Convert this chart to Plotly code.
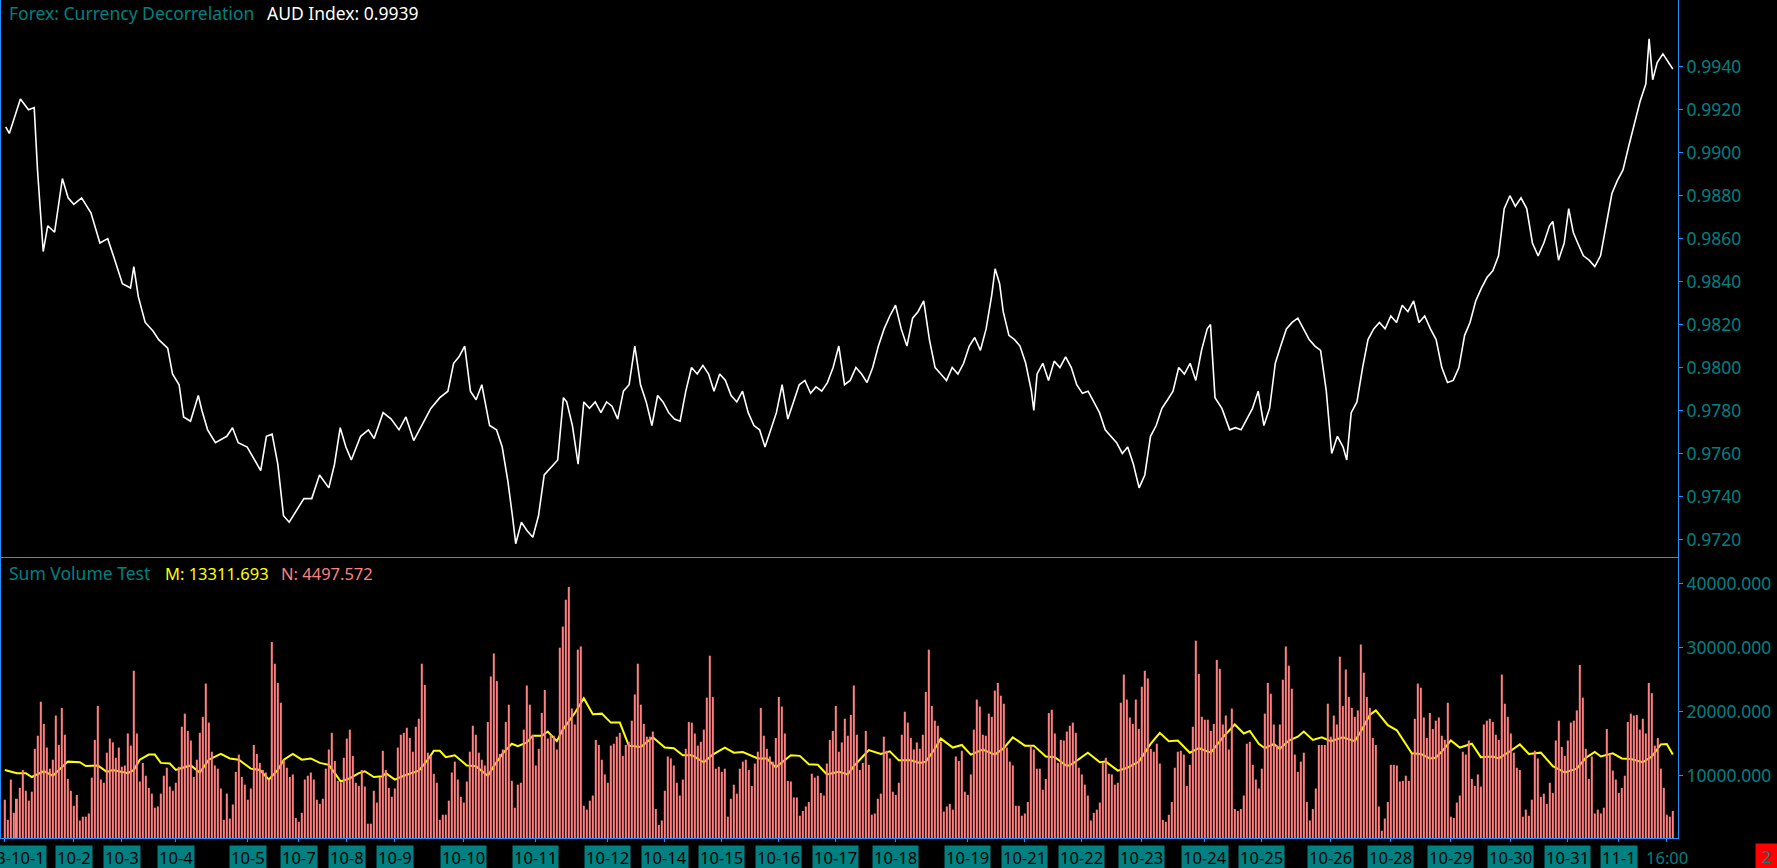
import plotly.graph_objects as go

BLUE = "#1E90FF"
TEAL = "#008080"
SALMON = "#FF8080"
YELLOW = "#FFFF00"
FONT = "Noto Sans"

# AUD index, sampled at bar positions
price_bar = [
    0.3, 1.5, 5.2, 7.9, 9.8, 10.9, 12.8, 14.3, 16.6, 19.2,
    21.1, 23.0, 25.6, 28.7, 31.7, 34.3, 36.2, 39.2, 41.9, 43.0,
    44.5, 46.8, 49.4, 51.3, 54.3, 55.9, 58.1, 59.6, 61.9, 64.5,
    65.7, 67.6, 70.2, 74.0, 75.9, 77.8, 80.8, 83.4, 85.3, 87.2,
    89.1, 91.0, 92.9, 94.8, 97.4, 99.7, 102.3, 104.9, 108.0, 109.9,
    111.8, 113.7, 115.5, 118.6, 121.2, 123.1, 126.1, 128.8, 131.4, 133.7,
    136.3, 139.0, 142.0, 145.0, 147.7, 149.6, 151.4, 153.3, 155.2, 157.1,
    159.0, 161.6, 163.9, 165.8, 167.7, 169.2, 170.3, 172.2, 174.1, 176.0,
    177.9, 179.8, 182.8, 184.3, 186.2, 187.3, 189.2, 191.1, 193.0, 194.9,
    196.8, 198.7, 200.6, 202.4, 204.3, 206.2, 208.1, 210.0, 211.9, 213.8,
    215.7, 217.6, 219.4, 221.3, 223.2, 225.1, 227.0, 228.9, 230.8, 232.7,
    234.6, 236.4, 238.3, 240.2, 242.1, 244.0, 245.9, 247.8, 249.7, 251.6,
    253.4, 255.3, 257.2, 259.1, 261.0, 262.9, 264.8, 266.7, 268.6, 270.4,
    272.3, 274.2, 276.1, 278.0, 279.9, 281.8, 283.7, 285.6, 287.4, 289.3,
    291.2, 293.1, 295.0, 296.9, 298.8, 300.7, 302.6, 304.4, 306.3, 308.2,
    310.1, 312.0, 313.9, 315.8, 317.7, 319.6, 321.5, 323.3, 325.2, 327.1,
    329.0, 330.1, 331.6, 332.8, 334.7, 336.6, 338.4, 340.3, 342.2, 343.0,
    344.1, 346.0, 347.9, 349.8, 351.7, 353.6, 355.5, 357.3, 359.2, 361.1,
    363.0, 364.9, 366.8, 368.7, 370.6, 372.5, 374.3, 376.2, 378.1, 380.0,
    381.9, 383.8, 385.7, 387.6, 389.4, 391.3, 393.2, 395.1, 397.0, 398.9,
    400.8, 401.9, 403.4, 405.7, 408.3, 410.2, 412.1, 414.0, 415.9, 417.8,
    419.7, 421.6, 423.5, 425.3, 427.2, 429.1, 431.0, 432.9, 434.8, 436.7,
    438.6, 440.5, 442.3, 444.2, 446.1, 447.3, 448.8, 450.7, 452.6, 454.4,
    456.3, 458.2, 460.1, 462.0, 463.9, 465.8, 467.7, 469.6, 471.4, 473.3,
    475.2, 477.1, 479.0, 480.9, 482.8, 484.7, 486.6, 488.4, 490.3, 492.2,
    494.1, 496.0, 497.9, 499.8, 501.7, 503.5, 505.4, 507.3, 509.2, 511.1,
    513.0, 514.9, 516.0, 517.9, 519.8, 521.3, 522.8, 524.3, 526.2, 528.1,
    530.0, 531.9, 533.8, 535.7, 537.5, 539.4, 541.3, 543.2, 545.1, 547.0,
    548.1, 549.3, 550.8, 552.7, 554.5, 556.0,
]
price_val = [
    0.9912, 0.9909, 0.9925, 0.9920, 0.9921, 0.9892, 0.9854, 0.9866, 0.9863, 0.9888,
    0.9879, 0.9876, 0.9879, 0.9872, 0.9858, 0.9860, 0.9852, 0.9839, 0.9837, 0.9847,
    0.9833, 0.9821, 0.9817, 0.9813, 0.9809, 0.9797, 0.9792, 0.9777, 0.9775, 0.9787,
    0.9780, 0.9771, 0.9765, 0.9768, 0.9772, 0.9765, 0.9763, 0.9757, 0.9752, 0.9768,
    0.9769, 0.9755, 0.9731, 0.9728, 0.9734, 0.9739, 0.9739, 0.9750, 0.9744, 0.9755,
    0.9772, 0.9763, 0.9757, 0.9768, 0.9771, 0.9767, 0.9779, 0.9776, 0.9771, 0.9777,
    0.9766, 0.9773, 0.9781, 0.9786, 0.9789, 0.9802, 0.9805, 0.9810, 0.9789, 0.9785,
    0.9792, 0.9773, 0.9771, 0.9763, 0.9747, 0.9731, 0.9718, 0.9728, 0.9724, 0.9721,
    0.9731, 0.9750, 0.9755, 0.9757, 0.9786, 0.9784, 0.9773, 0.9755, 0.9784, 0.9781,
    0.9784, 0.9779, 0.9784, 0.9782, 0.9776, 0.9789, 0.9792, 0.9810, 0.9792, 0.9784,
    0.9773, 0.9787, 0.9784, 0.9779, 0.9776, 0.9775, 0.9789, 0.9800, 0.9797, 0.9801,
    0.9797, 0.9789, 0.9797, 0.9794, 0.9787, 0.9784, 0.9789, 0.9779, 0.9773, 0.9771,
    0.9763, 0.9771, 0.9779, 0.9792, 0.9776, 0.9784, 0.9792, 0.9794, 0.9788, 0.9791,
    0.9789, 0.9793, 0.9800, 0.9810, 0.9792, 0.9794, 0.9800, 0.9797, 0.9793, 0.9800,
    0.9810, 0.9818, 0.9824, 0.9829, 0.9818, 0.9810, 0.9823, 0.9826, 0.9831, 0.9813,
    0.9800, 0.9797, 0.9794, 0.9800, 0.9797, 0.9802, 0.9810, 0.9814, 0.9808, 0.9818,
    0.9834, 0.9846, 0.9839, 0.9826, 0.9815, 0.9813, 0.9810, 0.9802, 0.9789, 0.9780,
    0.9797, 0.9802, 0.9794, 0.9803, 0.9800, 0.9805, 0.9800, 0.9792, 0.9788, 0.9789,
    0.9784, 0.9779, 0.9771, 0.9768, 0.9765, 0.9760, 0.9763, 0.9755, 0.9744, 0.9750,
    0.9768, 0.9773, 0.9781, 0.9785, 0.9789, 0.9800, 0.9797, 0.9802, 0.9794, 0.9808,
    0.9818, 0.9820, 0.9786, 0.9781, 0.9771, 0.9772, 0.9771, 0.9776, 0.9781, 0.9789,
    0.9773, 0.9781, 0.9802, 0.9810, 0.9818, 0.9821, 0.9823, 0.9818, 0.9813, 0.9810,
    0.9808, 0.9789, 0.9760, 0.9768, 0.9763, 0.9757, 0.9779, 0.9784, 0.9800, 0.9813,
    0.9818, 0.9821, 0.9818, 0.9824, 0.9821, 0.9829, 0.9826, 0.9831, 0.9821, 0.9824,
    0.9818, 0.9813, 0.9800, 0.9793, 0.9794, 0.9800, 0.9815, 0.9821, 0.9831, 0.9837,
    0.9842, 0.9845, 0.9852, 0.9874, 0.9880, 0.9875, 0.9879, 0.9874, 0.9858, 0.9852,
    0.9858, 0.9866, 0.9868, 0.9850, 0.9858, 0.9874, 0.9863, 0.9858, 0.9852, 0.9850,
    0.9847, 0.9852, 0.9866, 0.9881, 0.9887, 0.9892, 0.9903, 0.9914, 0.9924, 0.9932,
    0.9953, 0.9934, 0.9942, 0.9946, 0.9942, 0.9939,
]

# Sum volume, one value per bar
volume = [
    6250, 3100, 9400, 4200, 6400, 8100, 10900, 7650, 6100, 7500,
    14200, 16250, 21560, 18100, 14400, 11100, 12500, 19400, 14800, 20600,
    16400, 9500, 7650, 5300, 7000, 3000, 3600, 3600, 4100, 9700,
    15600, 20900, 9400, 8900, 13600, 15800, 15200, 12800, 14400, 11400,
    11600, 16600, 14700, 26400, 16600, 9100, 12000, 10000, 8100, 7200,
    5000, 5200, 7200, 10000, 11250, 8300, 7650, 8900, 11400, 17650,
    19700, 17000, 15500, 9800, 12500, 16700, 19200, 24400, 18300, 13750,
    11600, 11100, 8000, 3100, 7200, 3300, 5500, 10600, 13300, 9800,
    8600, 6250, 8000, 14800, 13400, 12000, 10900, 10500, 9400, 30900,
    27500, 24500, 21400, 12500, 11250, 9800, 10200, 3400, 2800, 4200,
    9400, 10000, 10500, 9400, 6250, 5600, 6400, 11100, 14100, 16700,
    12300, 9200, 8900, 12800, 15800, 17200, 13100, 8900, 8400, 10900,
    8300, 2500, 2500, 7650, 5800, 9800, 13900, 10900, 8100, 6700,
    8000, 14400, 16400, 16700, 17500, 15900, 13750, 17650, 18900,
    27500, 24200, 13600, 13100, 10300, 8900, 3100, 3900, 3900, 6100,
    10500, 12200, 9400, 6700, 5800, 9100, 13750, 17800, 16400, 13600,
    12500, 11600, 18400, 25500, 29100, 24800, 13400, 14100, 18400, 21100,
    9200, 5000, 8600, 8900, 17200, 24100, 21100, 16400, 11600, 14200,
    19800, 23400, 15800, 16400, 16250, 14100, 30000, 33300, 37500, 39500,
    20500, 18000, 29700, 30200, 5300, 4700, 6100, 6900, 15600, 14800,
    12500, 10200, 8900, 14700, 15000, 16100, 16700, 13100, 14800, 15300,
    18600, 22700, 27500, 21100, 18100, 16100, 16100, 16900, 4800, 2300,
    3000, 7650, 13000, 12700, 11600, 8900, 6900, 9400, 14200, 18400,
    18300, 16600, 14700, 15300, 17200, 22200, 28750, 22300, 11100, 11400,
    10600, 11100, 3600, 6400, 8600, 7200, 11100, 12200, 12500, 10900,
    8400, 11900, 13750, 20600, 16250, 14200, 13000, 12200, 15900, 22300,
    20800, 16600, 9200, 9100, 6600, 6600, 3750, 4500, 5200, 5900,
    10300, 9700, 10000, 7300, 6900, 11900, 15600, 17000, 20900, 13750,
    15200, 18900, 16250, 19500, 24100, 16400, 10900, 12000, 17000, 11700,
    3900, 4100, 6400, 7200, 16100, 13900, 12700, 7500, 7000, 8900,
    16400, 20000, 18300, 15900, 14100, 15200, 14200, 16400, 23100, 29700,
    20900, 18600, 17800, 15300, 4400, 5200, 5600, 4700, 13000, 12300,
    13900, 7500, 7000, 10200, 17200, 21900, 20800, 16400, 16250, 19700,
    19200, 23300, 24500, 22500, 21250, 14400, 12200, 11600, 5300, 5300,
    3750, 4100, 5900, 14700, 14100, 11100, 11100, 7800, 9500, 19800,
    20300, 16600, 12000, 15600, 15500, 16900, 17800, 18300, 16700, 11250,
    10200, 8600, 6900, 3000, 4200, 4700, 5800, 12000, 12800, 10300,
    10200, 8600, 8900, 21400, 25800, 21900, 19100, 18100, 21900, 17300,
    23900, 26400, 25200, 14200, 13750, 15000, 11900, 3100, 2800, 3900,
    5900, 11250, 13750, 13900, 13300, 8400, 11700, 17650, 31100, 25900,
    19200, 18750, 18750, 17000, 18100, 28100, 26700, 18000, 19400, 14100,
    20500, 4800, 4500, 4800, 6900, 15000, 15300, 11700, 9400, 8000,
    11100, 19700, 24500, 22800, 18000, 14700, 18000, 25000, 30200, 27200,
    23600, 13300, 10600, 12200, 13600, 5900, 3000, 4800, 8000, 14800,
    14800, 14800, 21250, 16100, 19400, 18000, 28600, 20900, 26600, 22300,
    20600, 19200, 20200, 30500, 26100, 22300, 20600, 15900, 14800, 5200,
    1400, 3300, 5900, 11700, 11700, 11600, 9100, 9200, 10000, 9200,
    13400, 18900, 24400, 23750, 19100, 15900, 19800, 17300, 18600, 19100,
    16250, 15600, 21400, 3600, 3400, 5800, 6900, 13750, 13300, 15500,
    9500, 8400, 10200, 8300, 18000, 18600, 18900, 18400, 16400, 15600,
    25800, 21250, 19200, 16600, 13600, 11250, 10900, 3600, 4700, 3750,
    6250, 13900, 12700, 6700, 7200, 5600, 8900, 7300, 15500, 18600,
    14500, 13100, 15500, 18300, 18600, 20200, 27300, 22200, 14200, 9500,
    13000, 4100, 4700, 4100, 5000, 17300, 13400, 10800, 9400, 7300,
    8100, 10000, 18400, 19700, 19400, 19500, 17200, 18900, 16600, 24500,
    22900, 14700, 15900, 11100, 8100, 3900, 3600, 4497.572,
]

# Average of the volume (yellow line), read at bar positions
ma_bar = [
    0, 4, 7, 9, 13, 16, 21, 25, 27, 31, 34, 36, 41, 43, 45, 48, 50, 52, 55, 57,
    59, 62, 65, 68, 72, 75, 78, 82, 85, 88, 91, 93, 96, 99, 102, 105, 108, 112, 115, 118,
    120, 123, 126, 127, 130, 133, 138, 141, 143, 145, 147, 150, 154, 157, 161, 163, 166, 169, 171, 174,
    176, 179, 181, 184, 186, 190, 193, 196, 199, 202, 205, 208, 212, 216, 220, 223, 226, 229, 233, 236,
    240, 243, 246, 251, 254, 257, 262, 265, 268, 271, 274, 278, 281, 283, 286, 288, 292, 295, 298, 302,
    305, 307, 310, 312, 316, 319, 322, 326, 330, 333, 336, 340, 343, 347, 350, 354, 356, 361, 365, 367,
    371, 374, 378, 382, 385, 388, 391, 395, 398, 402, 406, 410, 413, 415, 418, 420, 423, 425, 428, 431,
    433, 436, 439, 442, 446, 450, 452, 455, 457, 461, 464, 466, 469, 472, 475, 477, 480, 482, 485, 489,
    492, 496, 498, 502, 505, 508, 512, 516, 520, 524, 527, 530, 532, 536, 539, 542, 546, 549, 552, 554,
    556,
]
ma_val = [
    10900, 10400, 10400, 9800, 10700, 10000, 12200, 12100, 11500, 11600, 10600, 10900, 10400, 10900, 12500, 13300, 13300, 12000, 11900, 10900,
    11200, 11600, 10500, 12500, 13400, 12700, 12500, 11100, 10900, 9400, 10900, 12500, 13400, 12500, 12700, 12000, 11700, 9100, 9600, 10400,
    10700, 9800, 9900, 10400, 9400, 10000, 10800, 12500, 13900, 13900, 12900, 13200, 11600, 11500, 10000, 11500, 13500, 15000, 14600, 15200,
    16250, 16250, 16900, 15400, 17200, 19800, 22100, 19600, 19700, 18300, 18300, 14700, 14500, 16000, 14400, 14300, 13200, 13200, 12100, 13300,
    14400, 13600, 13700, 12700, 12700, 11300, 13200, 13100, 11800, 11700, 10200, 10600, 10200, 11500, 13000, 14000, 13400, 13800, 12400, 12400,
    12000, 12200, 14200, 15800, 14400, 14800, 13300, 14100, 13300, 14300, 16000, 14700, 14700, 13000, 12900, 11500, 11900, 13600, 12100, 12200,
    10800, 11200, 12200, 15000, 16700, 15400, 15500, 13600, 14300, 13600, 16000, 18000, 16600, 17000, 15000, 14300, 14950, 14200, 15500, 16100,
    16900, 15600, 16000, 15400, 16000, 15400, 16900, 19500, 20200, 17900, 17100, 15600, 13500, 13400, 12700, 12800, 14300, 15500, 14400, 15000,
    12900, 13000, 12700, 13900, 14900, 13400, 13600, 11500, 10500, 11100, 12800, 13700, 13000, 13500, 12700, 12600, 12100, 13000, 14900, 14950,
    13311.693,
]

price_ticks = [0.9720, 0.9740, 0.9760, 0.9780, 0.9800, 0.9820, 0.9840, 0.9860, 0.9880, 0.9900, 0.9920, 0.9940]
volume_ticks = [10000, 20000, 30000, 40000]

date_bar = [0, 23, 39, 57, 81, 98, 114, 130, 153, 177, 201, 220, 239, 258, 277,
            297, 321, 340, 359, 379, 400, 419, 442, 462, 482, 502, 521, 538, 554]
date_text = ["2013-10-1", "10-2", "10-3", "10-4", "10-5", "10-7", "10-8", "10-9", "10-10",
             "10-11", "10-12", "10-14", "10-15", "10-16", "10-17", "10-18", "10-19", "10-21",
             "10-22", "10-23", "10-24", "10-25", "10-26", "10-28", "10-29", "10-30", "10-31",
             "11-1", "16:00"]

x_range = [-1.27, 557.73]
split = 0.3353  # price panel / volume panel border

fig = go.Figure()

fig.add_trace(go.Scatter(
    x=price_bar, y=price_val, mode="lines",
    line=dict(color="white", width=1.6),
    xaxis="x", yaxis="y", hoverinfo="skip",
))

# yellow line sits behind the bars, so bars go on an overlaid axis
fig.add_trace(go.Scatter(
    x=ma_bar, y=ma_val, mode="lines",
    line=dict(color=YELLOW, width=2),
    xaxis="x2", yaxis="y2", hoverinfo="skip",
))
fig.add_trace(go.Bar(
    x=list(range(len(volume))), y=volume, width=0.67,
    marker=dict(color=SALMON, line_width=0),
    xaxis="x2", yaxis="y3", hoverinfo="skip",
))

axis_common = dict(showgrid=False, zeroline=False, linecolor=BLUE, linewidth=1)
tick_font = dict(family=FONT, size=17.5, color=TEAL)

fig.update_layout(
    width=1777, height=868,
    paper_bgcolor="black", plot_bgcolor="black",
    margin=dict(l=1, r=99, t=0, b=30),
    showlegend=False,
    xaxis=dict(domain=[0, 1], anchor="y", range=x_range, showline=True,
               showticklabels=False, ticks="", **axis_common),
    yaxis=dict(domain=[split, 1], anchor="x", side="right", range=[0.97118, 0.99711],
               tickvals=price_ticks, tickformat=".4f", showline=True, mirror=True,
               ticks="outside", ticklen=4, tickcolor=BLUE, tickfont=tick_font, **axis_common),
    xaxis2=dict(domain=[0, 1], anchor="y2", range=x_range, showline=True,
                tickvals=date_bar, showticklabels=False, ticks="outside", ticklen=3,
                tickcolor=BLUE, **axis_common),
    yaxis2=dict(domain=[0, split], anchor="x2", side="right", range=[266, 44172],
                tickvals=volume_ticks, tickformat=".3f", showline=True, mirror=True,
                ticks="outside", ticklen=4, tickcolor=BLUE, tickfont=tick_font, **axis_common),
    yaxis3=dict(overlaying="y2", anchor="x2", side="right", range=[266, 44172],
                visible=False, showgrid=False, zeroline=False),
)

# panel titles
titles = [
    ("Forex: Currency Decorrelation", TEAL, 6, "y domain", -13, 17.5),
    ("AUD Index: 0.9939", "white", 264, "y domain", -13, 17.5),
    ("Sum Volume Test", TEAL, 6, "y2 domain", -16, 17.5),
    ("M: 13311.693", YELLOW, 162, "y2 domain", -16, 16.5),
    ("N: 4497.572", SALMON, 278, "y2 domain", -16, 16.5),
]
for text, color, xs, yref, ys, size in titles:
    fig.add_annotation(
        text=text, xref="paper", x=0, xanchor="left", xshift=xs,
        yref=yref, y=1, yanchor="middle", yshift=ys,
        showarrow=False, font=dict(family=FONT, size=size, color=color),
    )

# date labels in teal boxes under the volume panel
for pos, text in zip(date_bar, date_text):
    if text == "16:00":
        fig.add_annotation(
            text=text, xref="x2", x=pos, yref="paper", y=0, yanchor="top", yshift=-6,
            showarrow=False, font=dict(family=FONT, size=16.5, color=TEAL),
        )
        continue
    first = pos == date_bar[0]
    fig.add_annotation(
        text=text, xref="x2", x=pos, xanchor="right" if first else "center",
        xshift=42 if first else 0,
        yref="paper", y=0, yanchor="top", yshift=-7,
        showarrow=False, bgcolor=TEAL, borderpad=1, height=21,
        font=dict(family=FONT, size=16.5, color="black"),
    )

# red counter box in the corner
fig.add_annotation(
    text="2", xref="paper", x=1, xanchor="left", xshift=77,
    yref="paper", y=0, yanchor="top", yshift=-5,
    showarrow=False, bgcolor="#FF0000", width=21, height=25, borderpad=0,
    font=dict(family=FONT, size=17, color=TEAL),
)

fig.write_html(
    "out.html",
    config={"displayModeBar": False},
    post_script="document.body.style.margin='0';document.body.style.overflow='hidden';",
)
